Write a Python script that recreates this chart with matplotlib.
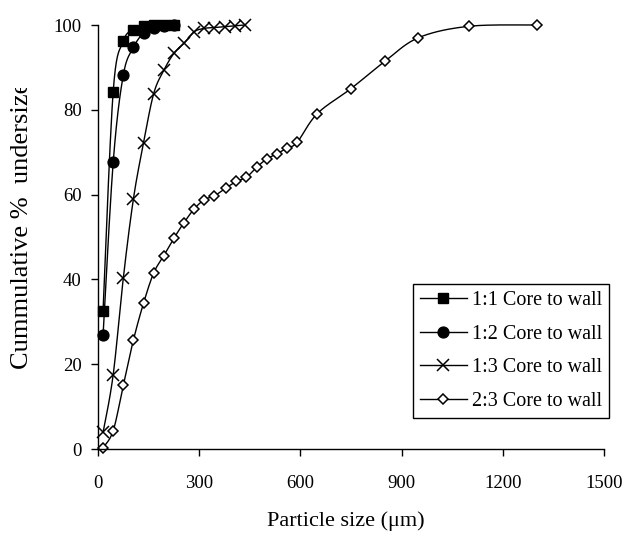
import numpy as np
import matplotlib
matplotlib.use('Agg')
import matplotlib.pyplot as plt
from matplotlib.transforms import Bbox

# Data
size_11 = [15, 45, 75, 105, 135, 165, 195, 225]
pct_11 = [32.6, 84.3, 96.2, 98.9, 99.7, 99.9, 100, 100]

size_12 = [15, 45, 75, 105, 135, 165, 195, 225]
pct_12 = [26.8, 67.6, 88.2, 94.7, 98.1, 99.2, 99.7, 100]

size_13 = [15, 45, 75, 105, 135, 165, 195, 225, 255, 285, 315, 345, 375, 405, 435]
pct_13 = [3.9, 17.5, 40.3, 59.0, 72.2, 83.8, 89.3, 93.3, 95.7, 98.4, 99.2, 99.4, 99.6, 99.8, 100]

size_23 = [15, 45, 75, 105, 135, 165, 195, 225, 255, 285, 315, 345, 380, 410, 440,
           470, 500, 530, 560, 590, 650, 750, 850, 950, 1100, 1300]
pct_23 = [0.3, 4.3, 15.0, 25.7, 34.4, 41.5, 45.6, 49.7, 53.4, 56.6, 58.8, 59.7, 61.6,
          63.1, 64.1, 66.4, 68.4, 69.6, 71.0, 72.3, 79.1, 85.0, 91.4, 97.0, 99.7, 100]

labels = ['1:1 Core to wall', '1:2 Core to wall', '1:3 Core to wall', '2:3 Core to wall']


def smooth(x, y, n=20):
    # Excel-style smoothed line: cubic Bezier segments through the points
    x = np.asarray(x, float)
    y = np.asarray(y, float)
    px = np.concatenate([[x[0]], x, [x[-1]]])
    py = np.concatenate([[y[0]], y, [y[-1]]])
    t = np.linspace(0, 1, n)[:, None]
    xs, ys = [], []
    for i in range(1, len(px) - 2):
        p0 = np.array([px[i], py[i]])
        p3 = np.array([px[i + 1], py[i + 1]])
        c1 = p0 + (np.array([px[i + 1], py[i + 1]]) - np.array([px[i - 1], py[i - 1]])) / 6
        c2 = p3 - (np.array([px[i + 2], py[i + 2]]) - np.array([px[i], py[i]])) / 6
        b = ((1 - t) ** 3) * p0 + 3 * ((1 - t) ** 2) * t * c1 + 3 * (1 - t) * t ** 2 * c2 + t ** 3 * p3
        xs.append(b[:, 0])
        ys.append(b[:, 1])
    return np.concatenate(xs), np.concatenate(ys)


plt.rcParams['font.family'] = ['Liberation Serif', 'DejaVu Serif']

fig = plt.figure(figsize=(6.26, 5.38), dpi=100)
ax = fig.add_axes([98 / 626, 89 / 538, 506 / 626, 424 / 538])

series = [
    (size_11, pct_11, dict(marker='s', markersize=7.2, markerfacecolor='black')),
    (size_12, pct_12, dict(marker='o', markersize=7.8, markerfacecolor='black')),
    (size_13, pct_13, dict(marker='x', markersize=8, markeredgewidth=1.1)),
    (size_23, pct_23, dict(marker='D', markersize=5, markerfacecolor='white', markeredgewidth=1.1)),
]

for (xv, yv, style), lab in zip(series, labels):
    sx, sy = smooth(xv, yv)
    ax.plot(sx, sy, color='black', linewidth=1.0, clip_on=False)
    ax.plot(xv, yv, linestyle='none', color='black', markeredgecolor='black', clip_on=False, **style)
    ax.plot([], [], color='black', linewidth=1.0, markeredgecolor='black', label=lab, **style)

ax.set_xlim(0, 1500)
ax.set_ylim(0, 100)
ax.set_xticks([0, 300, 600, 900, 1200, 1500])
ax.set_yticks([0, 20, 40, 60, 80, 100])
for s in ['top', 'right']:
    ax.spines[s].set_visible(False)
for s in ['left', 'bottom']:
    ax.spines[s].set_linewidth(1.0)
ax.tick_params(direction='out', length=4.75, width=1.0, labelsize=13.5)
ax.tick_params(axis='x', pad=14)
ax.tick_params(axis='y', pad=7)

fig.text(346 / 626, 1 - 521 / 538, 'Particle size (\u03bcm)', ha='center', va='center', fontsize=16)

# y label, clipped at the top like in the original
ylab = fig.text(22 / 626, 1 - 225 / 538, 'Cummulative %  undersize', rotation=90,
                ha='center', va='center', fontsize=19)
ylab.set_clip_box(Bbox.from_extents(0, 0, 626, 538 - 88))
ylab.set_clip_on(True)

leg = ax.legend(loc='lower right', bbox_to_anchor=(1.0099, 0.073), fontsize=14.5, frameon=True,
                fancybox=False, edgecolor='black', framealpha=1, handlelength=2.34,
                borderpad=0.35, labelspacing=0.72, handletextpad=0.25, borderaxespad=0)
leg.get_frame().set_linewidth(1.0)

fig.savefig('out.png', dpi=100)
